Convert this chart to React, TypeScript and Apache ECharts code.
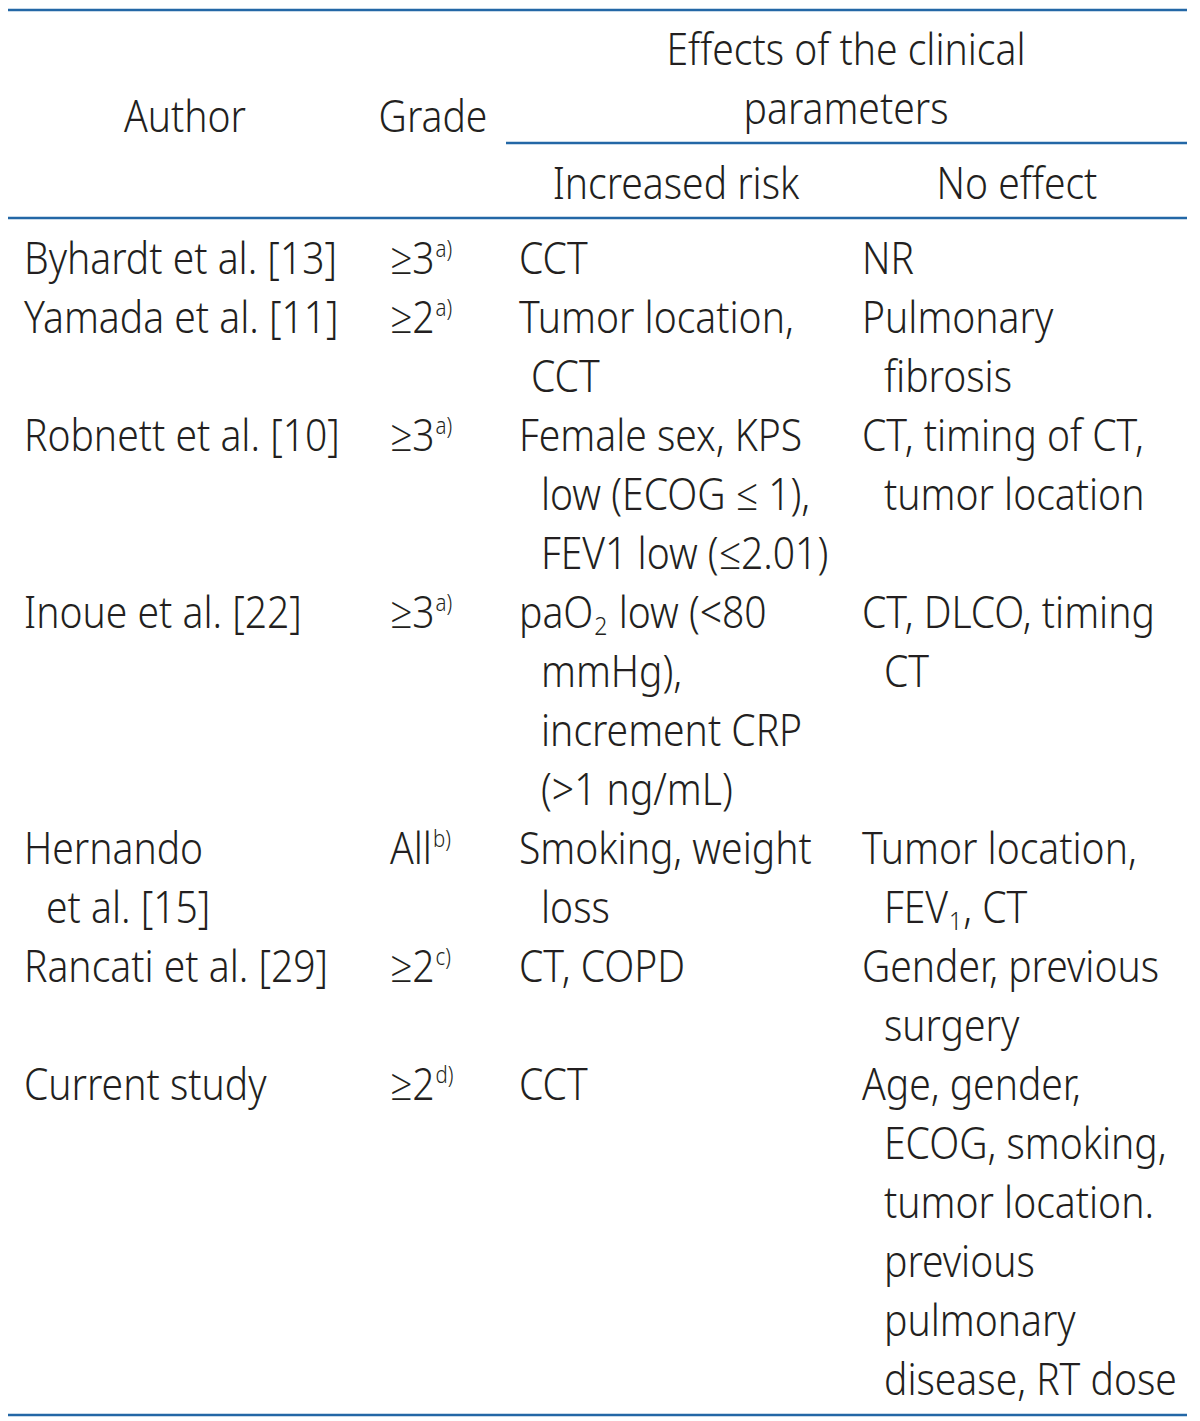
import React, { useEffect, useRef } from "react";
import * as echarts from "echarts";

// ---- table content ----
const headerAuthor = "Author";
const headerGrade = "Grade";
const headerEffects = ["Effects of the clinical", "parameters"];
const headerIncreased = "Increased risk";
const headerNoEffect = "No effect";

const authors: string[][] = [
  ["Byhardt et al. [13]"],
  ["Yamada et al. [11]"],
  ["Robnett et al. [10]"],
  ["Inoue et al. [22]"],
  ["Hernando", "et al. [15]"],
  ["Rancati et al. [29]"],
  ["Current study"],
];
const grades: string[] = ["≥3", "≥2", "≥3", "≥3", "All", "≥2", "≥2"];
const gradeNotes: string[] = ["a)", "a)", "a)", "a)", "b)", "c)", "d)"];
const increasedRisk: string[][] = [
  ["CCT"],
  ["Tumor location,", " CCT"],
  ["Female sex, KPS", "low (ECOG ≤ 1),", "FEV1 low (≤2.01)"],
  ["paO{2} low (<80", "mmHg),", "increment CRP", "(>1 ng/mL)"],
  ["Smoking, weight", "loss"],
  ["CT, COPD"],
  ["CCT"],
];
const noEffect: string[][] = [
  ["NR"],
  ["Pulmonary", "fibrosis"],
  ["CT, timing of CT,", "tumor location"],
  ["CT, DLCO, timing", "CT"],
  ["Tumor location,", "FEV{1}, CT"],
  ["Gender, previous", "surgery"],
  ["Age, gender,", "ECOG, smoking,", "tumor location.", "previous", "pulmonary", "disease, RT dose"],
];

// ---- styling ----
const FAMILY = '"Noto Sans", "Open Sans", sans-serif';
const FS = 44;
const SUP_FS = 23;
const SUB_FS = 26;
const TEXT_COLOR = "#231f20";
const LINE_COLOR = "#2367a6";

export default function App() {
  const ref = useRef<HTMLDivElement>(null);
  useEffect(() => {
    if (!ref.current) return;
    const chart = echarts.init(ref.current, null, { renderer: "svg" });
    const canvas = document.createElement("canvas");
    const ctx = canvas.getContext("2d")!;
    const measure = (t: string, size: number) => {
      ctx.font = `300 ${size}px ${FAMILY}`;
      return ctx.measureText(t).width;
    };
    // horizontal condensation factor to match the narrow face of the original
    const S = 313 / measure("Byhardt et al. [13]", FS);

    const els: any[] = [];
    const txt = (
      text: string,
      x: number,
      y: number,
      size = FS,
      align: "left" | "center" = "left"
    ) => {
      els.push({
        type: "text",
        x,
        y,
        scaleX: S,
        silent: true,
        style: {
          text,
          x: 0,
          y: 0,
          fontSize: size,
          fontWeight: 300,
          fontFamily: FAMILY,
          fill: TEXT_COLOR,
          align,
          verticalAlign: "middle",
        },
      });
    };
    // line with {sub} markup
    const richLine = (s: string, x: number, y: number) => {
      const parts = s.split(/(\{[^}]*\})/).filter((p) => p.length > 0);
      let cx = x;
      for (const p of parts) {
        if (p.startsWith("{")) {
          const t = p.slice(1, -1);
          txt(t, cx + 1, y + 14, SUB_FS);
          cx += measure(t, SUB_FS) * S + 2;
        } else {
          txt(p, cx, y);
          cx += measure(p, FS) * S;
        }
      }
    };
    const hline = (x1: number, x2: number, y: number) => {
      els.push({
        type: "line",
        silent: true,
        shape: { x1, y1: y, x2, y2: y },
        style: { stroke: LINE_COLOR, lineWidth: 2.5 },
      });
    };

    // rules
    hline(8, 1187, 10);
    hline(506, 1187, 143);
    hline(8, 1187, 218);
    hline(8, 1187, 1415);

    // header
    txt(headerAuthor, 185, 115, FS, "center");
    txt(headerGrade, 433, 115, FS, "center");
    txt(headerEffects[0], 846, 48, FS, "center");
    txt(headerEffects[1], 846, 107, FS, "center");
    txt(headerIncreased, 676, 182, FS, "center");
    txt(headerNoEffect, 1017, 182, FS, "center");

    // body
    const TOP = 257;
    const LH = 59;
    const COL = { author: 24, grade: 390, inc: 519, no: 862 };
    const INDENT = 22;
    let k = 0;
    for (let r = 0; r < authors.length; r++) {
      const yAt = (i: number) => TOP + (k + i) * LH;
      authors[r].forEach((l, i) => richLine(l, COL.author + (i ? INDENT : 0), yAt(i)));
      richLine(grades[r], COL.grade, yAt(0));
      const gw = measure(grades[r], FS) * S;
      txt(gradeNotes[r], COL.grade + gw + 1, yAt(0) - 9, SUP_FS);
      increasedRisk[r].forEach((l, i) => {
        if (l.startsWith(" ")) richLine(l.trimStart(), COL.inc + 12, yAt(i));
        else richLine(l, COL.inc + (i ? INDENT : 0), yAt(i));
      });
      noEffect[r].forEach((l, i) => richLine(l, COL.no + (i ? INDENT : 0), yAt(i)));
      k += Math.max(authors[r].length, 1, increasedRisk[r].length, noEffect[r].length);
    }

    chart.setOption({
      animation: false,
      backgroundColor: "#ffffff",
      graphic: { elements: els },
    });
    return () => chart.dispose();
  }, []);

  return (
    <div
      ref={ref}
      style={{ position: "absolute", left: 0, top: 0, width: 1200, height: 1421, background: "#fff" }}
    />
  );
}
